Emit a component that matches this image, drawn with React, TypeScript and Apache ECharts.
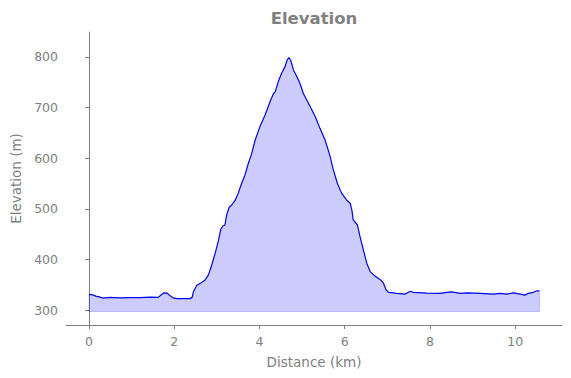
import React, { useEffect, useRef } from "react";
import * as echarts from "echarts";

const distanceKm: number[] = [
  0.0, 0.09, 0.16, 0.26, 0.33, 0.49, 0.73, 0.96, 1.2, 1.43, 1.62, 1.69, 1.76, 1.83, 1.9, 1.97, 2.07, 2.37, 2.42,
  2.45, 2.53, 2.63, 2.72, 2.8, 2.88, 2.96, 3.04, 3.09, 3.14, 3.19, 3.23, 3.29, 3.35, 3.43, 3.5, 3.58, 3.66, 3.74,
  3.82, 3.9, 4.01, 4.13, 4.25, 4.33, 4.37, 4.44, 4.52, 4.6, 4.65, 4.69, 4.73, 4.8, 4.88, 4.95, 5.03, 5.11, 5.19,
  5.31, 5.42, 5.54, 5.66, 5.73, 5.83, 5.93, 6.05, 6.13, 6.17, 6.2, 6.3, 6.36, 6.44, 6.52, 6.6, 6.71, 6.83, 6.91,
  6.97, 7.03, 7.14, 7.22, 7.42, 7.54, 7.61, 7.93, 8.24, 8.4, 8.51, 8.71, 8.87, 9.18, 9.49, 9.65, 9.81, 9.96, 10.12,
  10.23, 10.31, 10.43, 10.51, 10.57,
];

const elevationM: number[] = [
  331, 330, 327.5, 325.5, 323.5, 325, 324, 324.5, 324.5, 325.5, 325, 329.5, 334, 333.5, 328.5, 324, 322.5, 322.5, 325,
  336, 349, 354, 359, 369, 389, 412, 438, 459, 466, 468, 488, 503, 507.5, 517, 530.5, 550, 567, 590,
  610, 636, 662, 685, 712, 728, 731, 751, 768, 781, 794, 799, 794, 774, 761, 748, 728, 715, 702,
  682, 659, 636, 603, 578, 550, 530.5, 517, 511, 497, 478, 468, 445, 418.5, 392, 376, 367, 360.5, 353,
  340, 335, 334, 333, 331.5, 337, 335, 333.5, 333, 335, 336, 333, 334, 333, 331.5, 333, 331.5, 334, 331.5,
  329.5, 333, 335, 338, 338,
];

const fillBase = 297;
const xTicks: number[] = [0, 2, 4, 6, 8, 10];
const yTicks: number[] = [300, 400, 500, 600, 700, 800];

export default function App() {
  const ref = useRef<HTMLDivElement>(null);
  useEffect(() => {
    if (!ref.current) return;
    const chart = echarts.init(ref.current, undefined, { renderer: "svg" });
    const grey = "#808080";
    const pts = distanceKm.map((d, i) => [d, elevationM[i]]);
    const lastX = distanceKm[distanceKm.length - 1];
    const lastY = elevationM[elevationM.length - 1];
    const outline = [
      [distanceKm[0], elevationM[0]],
      [distanceKm[0], fillBase],
      [lastX, fillBase],
      [lastX, lastY],
    ];
    chart.setOption({
      animation: false,
      textStyle: { fontFamily: "DejaVu Sans" },
      grid: { left: 66, right: 9, top: 32, bottom: 53, containLabel: false },
      graphic: [
        {
          type: "text",
          x: 314,
          y: 18,
          style: {
            text: "Elevation",
            fill: grey,
            font: "bold 16.5px 'DejaVu Sans'",
            align: "center",
            verticalAlign: "middle",
          },
        },
      ],
      xAxis: {
        type: "value",
        min: -0.54,
        max: 11.1,
        name: "Distance (km)",
        nameLocation: "middle",
        nameGap: 30,
        nameTextStyle: { color: grey, fontSize: 13.5, fontFamily: "DejaVu Sans" },
        axisLine: { show: true, lineStyle: { color: grey, width: 1 } },
        axisTick: { show: true, length: 4, lineStyle: { color: grey }, customValues: xTicks },
        axisLabel: { color: grey, fontSize: 12.5, margin: 10, fontFamily: "DejaVu Sans", customValues: xTicks },
        splitLine: { show: false },
      },
      yAxis: {
        type: "value",
        min: 270.4,
        max: 849.4,
        name: "Elevation (m)",
        nameLocation: "middle",
        nameGap: 42,
        nameTextStyle: { color: grey, fontSize: 13.5, fontFamily: "DejaVu Sans" },
        axisLine: { show: true, lineStyle: { color: grey, width: 1 } },
        axisTick: { show: true, length: 4, lineStyle: { color: grey }, customValues: yTicks },
        axisLabel: { color: grey, fontSize: 12.5, margin: 8, fontFamily: "DejaVu Sans", customValues: yTicks },
        splitLine: { show: false },
      },
      series: [
        {
          type: "line",
          data: pts,
          showSymbol: false,
          symbol: "none",
          lineStyle: { color: "#0000ff", width: 1.2 },
          areaStyle: { color: "rgba(0,0,255,0.2)", origin: fillBase, opacity: 1 },
          z: 3,
        },
        {
          type: "line",
          data: outline,
          showSymbol: false,
          symbol: "none",
          lineStyle: { color: "rgba(0,0,255,0.2)", width: 1 },
          z: 2,
        },
      ],
    });
    return () => chart.dispose();
  }, []);
  return <div ref={ref} style={{ position: "absolute", left: 0, top: 0, width: 571, height: 378 }} />;
}
